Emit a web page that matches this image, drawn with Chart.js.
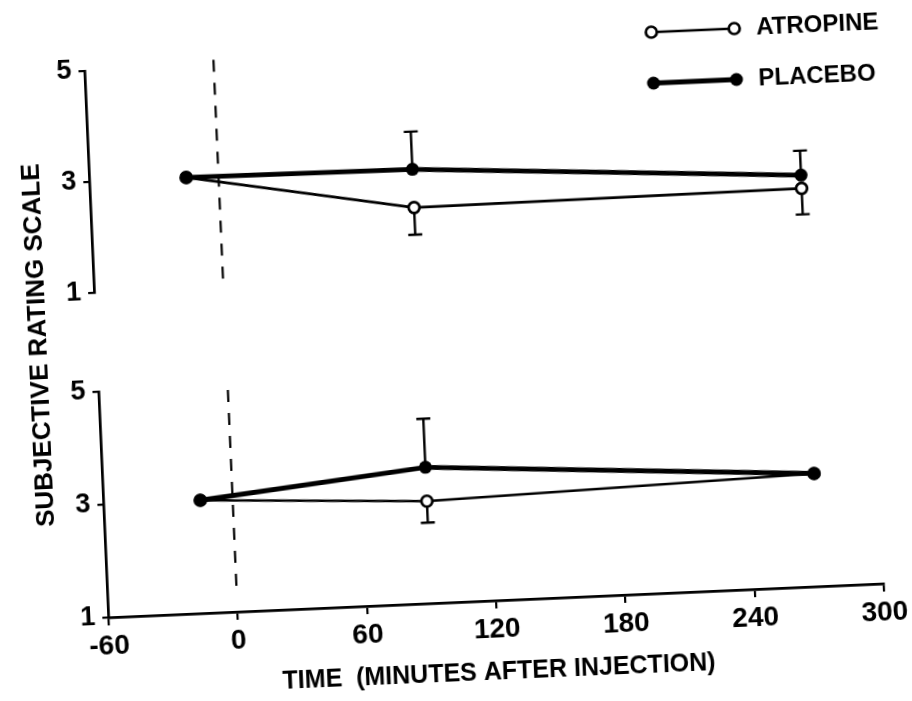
<!DOCTYPE html>
<html>
<head>
<meta charset="utf-8">
<script src="https://cdn.jsdelivr.net/npm/chart.js@4.4.1/dist/chart.umd.min.js"></script>
<style>
  html, body { margin: 0; padding: 0; background: #fff; overflow: hidden; }
  #wrap { position: absolute; left: 0; top: 0; width: 912px; height: 701px;
          transform: rotate(-2.5deg); transform-origin: 456px 350px; }
  #wrap canvas { position: absolute; left: 0; top: 0; }
</style>
</head>
<body>
<div id="wrap">
  <canvas id="top" width="912" height="300"></canvas>
  <canvas id="bottom" width="912" height="701"></canvas>
</div>
<script>
// ---- data ----
const timePoints = [-15, 90, 270];
const seriesNames = ['PLACEBO', 'ATROPINE'];

const placeboTop = [3.0, 2.97, 2.56];
const placeboTopErrUp = [0, 0.68, 0.44];
const atropineTop = [3.0, 2.28, 2.32];
const atropineTopErrDown = [0, 0.49, 0.47];

const placeboBottom = [3.0, 3.41, 3.0];
const placeboBottomErrUp = [0, 0.86, 0];
const atropineBottom = [3.0, 2.81, 3.0];
const atropineBottomErrDown = [0, 0.38, 0];

const xTickValues = [-60, 0, 60, 120, 180, 240, 300];
const yTickValues = [1, 3, 5];
const injectionTime = 0;
const injectionSpanTop = [1.0, 5.1];
const injectionSpanBottom = [1.32, 4.93];

const xTitle = 'TIME  (MINUTES AFTER INJECTION)';
const yTitle = 'SUBJECTIVE RATING SCALE';

// ---- styling ----
const INK = '#000';
const FONT = "'Liberation Sans Narrow', 'Liberation Sans', Arial, sans-serif";

function pts(vals) { return timePoints.map((t, i) => ({ x: t, y: vals[i] })); }

function makeDatasets(pVals, pErr, aVals, aErr) {
  return [
    { label: seriesNames[0], data: pts(pVals), errors: pErr, errDir: 1,
      borderColor: INK, borderWidth: 4.8, backgroundColor: INK,
      pointRadius: 6.5, pointBorderWidth: 0, pointBackgroundColor: INK, tension: 0 },
    { label: seriesNames[1], data: pts(aVals), errors: aErr, errDir: -1,
      borderColor: INK, borderWidth: 2.7, backgroundColor: '#fff',
      pointRadius: 5.5, pointBorderWidth: 2.7, pointBorderColor: INK, pointBackgroundColor: '#fff', tension: 0 }
  ];
}

const errorBars = {
  id: 'errorBars',
  beforeDatasetsDraw(chart) {
    const ctx = chart.ctx, xs = chart.scales.x, ys = chart.scales.y;
    ctx.save();
    ctx.strokeStyle = INK; ctx.lineWidth = 2.4;
    chart.data.datasets.forEach(ds => {
      ds.data.forEach((p, j) => {
        const e = ds.errors[j];
        if (!e) return;
        const px = xs.getPixelForValue(p.x);
        const y0 = ys.getPixelForValue(p.y);
        const y1 = ys.getPixelForValue(p.y + ds.errDir * e);
        ctx.beginPath();
        ctx.moveTo(px, y0); ctx.lineTo(px, y1);
        ctx.moveTo(px - 7, y1); ctx.lineTo(px + 7, y1);
        ctx.stroke();
      });
    });
    ctx.restore();
  }
};

const refLine = {
  id: 'refLine',
  beforeDatasetsDraw(chart, args, opts) {
    const ctx = chart.ctx, xs = chart.scales.x, ys = chart.scales.y;
    const px = xs.getPixelForValue(opts.x);
    ctx.save();
    ctx.strokeStyle = INK; ctx.lineWidth = 2.2;
    ctx.setLineDash([12, 11]);
    ctx.beginPath();
    ctx.moveTo(px, ys.getPixelForValue(opts.span[1]));
    ctx.lineTo(px, ys.getPixelForValue(opts.span[0]));
    ctx.stroke();
    ctx.restore();
  }
};

const customLegend = {
  id: 'customLegend',
  afterDraw(chart, args, opts) {
    if (!opts.display) return;
    const ctx = chart.ctx;
    const rows = [chart.data.datasets[1], chart.data.datasets[0]];
    ctx.save();
    rows.forEach((ds, i) => {
      const y = opts.y + i * opts.gap;
      ctx.strokeStyle = INK; ctx.lineWidth = ds.borderWidth;
      ctx.beginPath(); ctx.moveTo(opts.x0, y); ctx.lineTo(opts.x1, y); ctx.stroke();
      [opts.x0, opts.x1].forEach(px => {
        ctx.beginPath();
        ctx.arc(px, y, ds.pointRadius, 0, Math.PI * 2);
        ctx.fillStyle = ds.pointBackgroundColor; ctx.fill();
        if (ds.pointBorderWidth) { ctx.lineWidth = ds.pointBorderWidth; ctx.stroke(); }
      });
      ctx.fillStyle = INK;
      ctx.font = 'bold 24px ' + FONT;
      ctx.textBaseline = 'middle'; ctx.textAlign = 'left';
      ctx.fillText(ds.label, opts.textX, y);
    });
    ctx.restore();
  }
};

const sideTitle = {
  id: 'sideTitle',
  afterDraw(chart, args, opts) {
    if (!opts.display) return;
    const ctx = chart.ctx;
    ctx.save();
    ctx.translate(opts.x, opts.y);
    ctx.rotate(-Math.PI / 2);
    ctx.fillStyle = INK;
    ctx.font = 'bold 26px ' + FONT;
    ctx.textAlign = 'center'; ctx.textBaseline = 'middle';
    ctx.fillText(opts.text, 0, 0);
    ctx.restore();
  }
};

function yScale() {
  return {
    type: 'linear', min: 1, max: 5,
    afterBuildTicks: s => { s.ticks = yTickValues.map(v => ({ value: v })); },
    afterFit: s => { s.width = 97; },
    ticks: { color: INK, font: { family: FONT, size: 27, weight: 'bold' }, padding: 7 },
    grid: { display: true, drawOnChartArea: false, drawTicks: true, tickLength: 6, color: INK, lineWidth: 2.2 },
    border: { display: true, color: INK, width: 2.7 }
  };
}

function xScale(show) {
  return {
    type: 'linear', min: -60, max: 300, display: show,
    afterBuildTicks: s => { s.ticks = xTickValues.map(v => ({ value: v })); },
    afterFit: s => { if (show) s.height = 99; },
    ticks: { color: INK, font: { family: FONT, size: 28, weight: 'bold' }, padding: 4, maxRotation: 0 },
    grid: { display: true, drawOnChartArea: false, drawTicks: true, tickLength: 8, color: INK, lineWidth: 2.2 },
    border: { display: true, color: INK, width: 2.7 },
    title: { display: show, text: xTitle, color: INK, font: { family: FONT, size: 25, weight: 'bold' }, padding: { top: 0, bottom: 12 } }
  };
}

const common = {
  responsive: false, animation: false, devicePixelRatio: 1,
  events: []
};

new Chart(document.getElementById('top'), {
  type: 'line',
  data: { datasets: makeDatasets(placeboTop, placeboTopErrUp, atropineTop, atropineTopErrDown) },
  options: Object.assign({}, common, {
    layout: { padding: { top: 55, bottom: 23, left: 0, right: 39 } },
    scales: { x: xScale(false), y: yScale() },
    plugins: {
      legend: { display: false }, tooltip: { enabled: false },
      refLine: { x: injectionTime, span: injectionSpanTop },
      customLegend: { display: true, x0: 665, x1: 748, textX: 770, y: 41, gap: 51 },
      sideTitle: { display: false }
    }
  }),
  plugins: [errorBars, refLine, customLegend, sideTitle]
});

new Chart(document.getElementById('bottom'), {
  type: 'line',
  data: { datasets: makeDatasets(placeboBottom, placeboBottomErrUp, atropineBottom, atropineBottomErrDown) },
  options: Object.assign({}, common, {
    layout: { padding: { top: 376, bottom: 0, left: 0, right: 39 } },
    scales: { x: xScale(true), y: yScale() },
    plugins: {
      legend: { display: false }, tooltip: { enabled: false },
      refLine: { x: injectionTime, span: injectionSpanBottom },
      customLegend: { display: false },
      sideTitle: { display: true, text: yTitle, x: 40, y: 327 }
    }
  }),
  plugins: [errorBars, refLine, customLegend, sideTitle]
});
</script>
</body>
</html>
